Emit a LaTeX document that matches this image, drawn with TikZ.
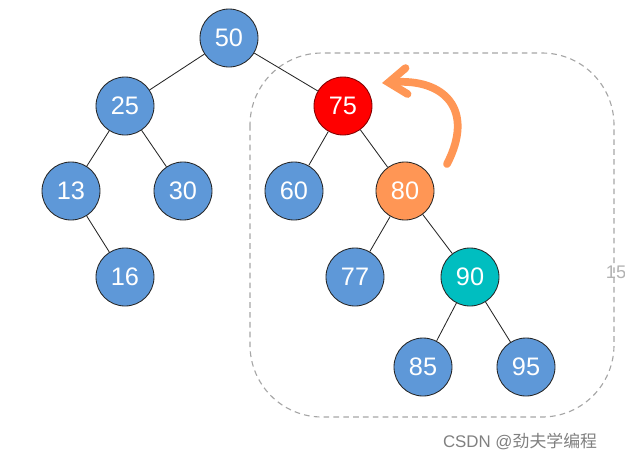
\documentclass[tikz,border=0pt]{standalone}
\usepackage{fontspec}
\setmainfont{Liberation Sans}
\newfontfamily\cjk{Noto Sans CJK SC}
\usetikzlibrary{arrows.meta}
\definecolor{treeblue}{RGB}{94,152,216}
\definecolor{treeorange}{RGB}{255,150,85}
\definecolor{treecyan}{RGB}{0,190,192}
\begin{document}
\begin{tikzpicture}[x=0.025cm,y=-0.025cm,
    keynode/.style={circle,draw=black!85,line width=0.6pt,fill=treeblue,minimum size=1.45cm,inner sep=0pt,
        text=white,font=\fontsize{18}{20}\selectfont},
    link/.style={black!85,line width=0.6pt}]
    \useasboundingbox (0,0) rectangle (625,463);
    %% subtree
    \draw[gray!70,line width=0.8pt,dash pattern=on 4pt off 3pt,rounded corners=1.8cm] (250,53) rectangle (614,417);
    %% keys
    \node[keynode] (n50) at (229,38) {50};
    \node[keynode] (n25) at (125,106) {25};
    \node[keynode,fill=red,draw=red!50!black] (n75) at (343,106) {75};
    \node[keynode] (n13) at (71,191) {13};
    \node[keynode] (n30) at (183,191) {30};
    \node[keynode] (n60) at (294,191) {60};
    \node[keynode,fill=treeorange] (n80) at (405,191) {80};
    \node[keynode] (n16) at (125,277) {16};
    \node[keynode] (n77) at (355,277) {77};
    \node[keynode,fill=treecyan] (n90) at (470,277) {90};
    \node[keynode] (n85) at (423,367) {85};
    \node[keynode] (n95) at (526,367) {95};
    %% links
    \draw[link] (n50) -- (n25);
    \draw[link] (n50) -- (n75);
    \draw[link] (n25) -- (n13);
    \draw[link] (n25) -- (n30);
    \draw[link] (n13) -- (n16);
    \draw[link] (n75) -- (n60);
    \draw[link] (n75) -- (n80);
    \draw[link] (n80) -- (n77);
    \draw[link] (n80) -- (n90);
    \draw[link] (n90) -- (n85);
    \draw[link] (n90) -- (n95);
    %% rotation
    \coordinate (turn) at (447,164);
    \coordinate (tip) at (382,83);
    \draw[treeorange,line width=5.5pt,line cap=round,-{Straight Barb[length=0.45cm,width=0.65cm,line cap=round]}]
        (turn) .. controls (475,110) and (445,78) .. (tip);
    %% labels
    \node[gray!60,font=\fontsize{13}{15}\selectfont,anchor=west] (cut) at (601,272) {15};
    \node[gray,font=\fontsize{12}{14}\selectfont] (mark) at (520,441) {CSDN @{\cjk 劲夫学编程}};
\end{tikzpicture}
\end{document}
